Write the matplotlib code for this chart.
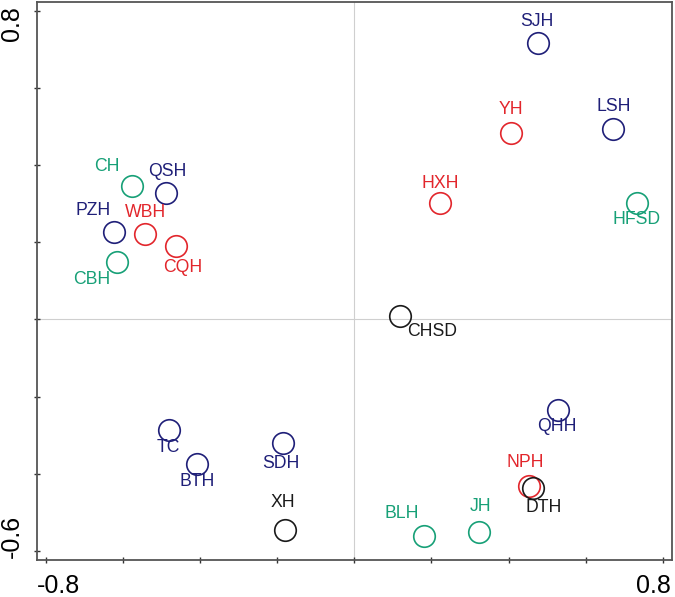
import matplotlib
matplotlib.use("Agg")
import matplotlib.pyplot as plt

plt.rcParams['font.family'] = ['Liberation Sans', 'DejaVu Sans']

# site scores
names = ["SJH", "LSH", "YH", "HFSD", "HXH", "CH", "QSH", "PZH", "WBH", "CQH", "CBH",
         "CHSD", "QHH", "NPH", "DTH", "TC", "BTH", "SDH", "XH", "BLH", "JH"]
xs = [0.477, 0.672, 0.407, 0.733, 0.223, -0.577, -0.489, -0.623, -0.543, -0.462, -0.616,
      0.119, 0.527, 0.454, 0.464, -0.480, -0.408, -0.184, -0.179, 0.182, 0.324]
ys = [0.718, 0.493, 0.484, 0.303, 0.301, 0.347, 0.327, 0.226, 0.221, 0.190, 0.150,
      0.010, -0.235, -0.432, -0.438, -0.287, -0.376, -0.320, -0.546, -0.562, -0.551]
groups = ["b", "b", "r", "g", "r", "g", "b", "b", "r", "r", "g",
          "k", "b", "r", "k", "b", "b", "b", "k", "g", "g"]

colors = {"b": "#1f1f78", "r": "#e2262c", "g": "#17a077", "k": "#1a1a1a"}

# label offsets in pixels (dx, dy)
offsets = [(-1, 21), (0, 23), (0, 23), (0, -17), (0, 20), (-25, 19), (2, 22), (-21, 22),
           (1, 22), (7, -21), (-25, -18), (32, -16), (-1, -16), (-4, 24), (10, -19),
           (-1, -17), (0, -17), (-2, -21), (-2, 27), (-23, 23), (1, 25)]

fig = plt.figure(figsize=(6.75, 5.97), dpi=100)
ax = fig.add_axes([0.0548, 0.0625, 0.9408, 0.9341])

ax.axhline(0, color="#cfcfcf", lw=0.8, zorder=0)
ax.axvline(0, color="#cfcfcf", lw=0.8, zorder=0)

for n, x, y, g, (dx, dy) in zip(names, xs, ys, groups, offsets):
    c = colors[g]
    ax.plot(x, y, "o", ms=15.5, mfc="none", mec=c, mew=1.2)
    ax.annotate(n, (x, y), xytext=(dx, dy), textcoords="offset pixels",
                ha="center", va="center", color=c, fontsize=12.7)

ax.set_xlim(-0.823, 0.824)
ax.set_ylim(-0.623, 0.823)
ax.set_xticks([-0.8, -0.6, -0.4, -0.2, 0, 0.2, 0.4, 0.6, 0.8])
ax.set_yticks([-0.6, -0.4, -0.2, 0, 0.2, 0.4, 0.6, 0.8])
ax.set_xticklabels([])
ax.set_yticklabels([])
ax.tick_params(direction="inout", length=5, width=1, color="#333333")
for s in ax.spines.values():
    s.set_color("#555555")
    s.set_linewidth(1.3)

# end labels like the original
ax.annotate("-0.8", (0, 0), xycoords="axes fraction", xytext=(0, -14),
            textcoords="offset pixels", ha="left", va="top", fontsize=18)
ax.annotate("0.8", (1, 0), xycoords="axes fraction", xytext=(-1, -14),
            textcoords="offset pixels", ha="right", va="top", fontsize=18)
ax.annotate("0.8", (0, 1), xycoords="axes fraction", xytext=(-13, -4),
            textcoords="offset pixels", ha="right", va="top", rotation=90, fontsize=18)
ax.annotate("-0.6", (0, 0), xycoords="axes fraction", xytext=(-13, 2),
            textcoords="offset pixels", ha="right", va="bottom", rotation=90, fontsize=18)

fig.savefig("out.png", dpi=100)
